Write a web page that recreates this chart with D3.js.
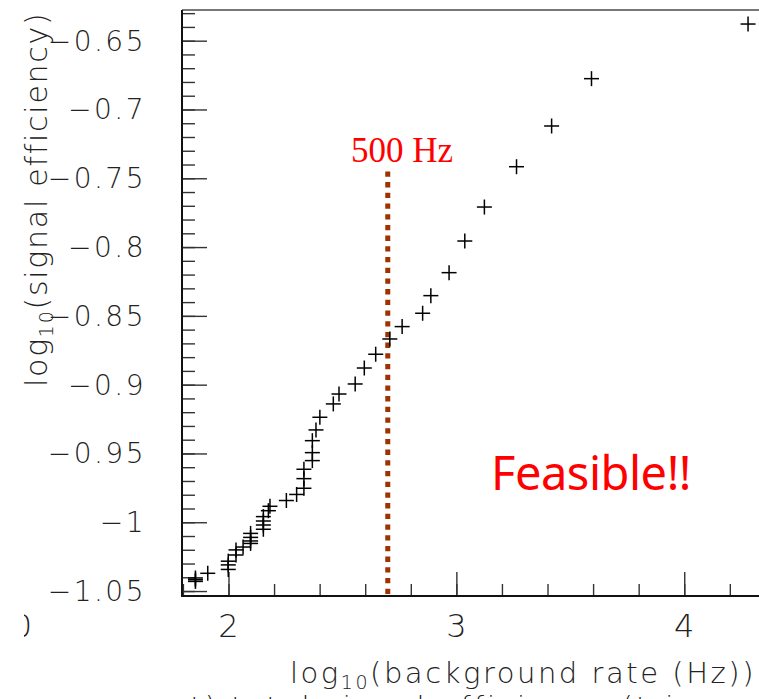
<!DOCTYPE html>
<html>
<head>
<meta charset="utf-8">
<script src="https://cdn.jsdelivr.net/npm/d3@7"></script>
<style>
  body { margin: 0; background: #fff; }
  svg { display: block; }
  .lab { font-family: "DejaVu Sans", "Liberation Sans", sans-serif; font-weight: 200; fill: #222; }
</style>
</head>
<body>
<svg id="chart" width="759" height="699"></svg>
<script>
// log10 of background rate (Hz) for each working point
const bgRate = [
  1.855, 1.855, 1.855, 1.909, 1.999, 1.999, 1.999, 2.033, 2.033, 2.064,
  2.097, 2.097, 2.097, 2.097, 2.153, 2.153, 2.153, 2.153, 2.175, 2.182,
  2.254, 2.299, 2.331, 2.331, 2.331, 2.368, 2.368, 2.368, 2.384, 2.401,
  2.460, 2.485, 2.556, 2.596, 2.646, 2.708, 2.762, 2.852, 2.888, 2.968,
  3.037, 3.123, 3.264, 3.418, 3.593, 4.280
];
// log10 of signal efficiency for the same working points
const sigEff = [
  -1.0405, -1.0418, -1.0430, -1.0371, -1.0283, -1.0310, -1.0343, -1.0201, -1.0238, -1.0180,
  -1.0081, -1.0110, -1.0136, -1.0154, -0.9959, -0.9991, -1.0020, -1.0051, -0.9916, -0.9884,
  -0.9842, -0.9798, -0.9753, -0.9683, -0.9615, -0.9552, -0.9494, -0.9407, -0.9329, -0.9237,
  -0.9140, -0.9068, -0.8995, -0.8879, -0.8779, -0.8668, -0.8578, -0.8481, -0.8353, -0.8186,
  -0.7956, -0.7709, -0.7416, -0.7120, -0.6776, -0.6379
];
const xTickValues = [2, 3, 4];
const xTickLabels = ["2", "3", "4"];
const yTickValues = [-0.65, -0.7, -0.75, -0.8, -0.85, -0.9, -0.95, -1.0, -1.05];
const yTickLabels = ["\u22120.65", "\u22120.7", "\u22120.75", "\u22120.8", "\u22120.85",
                     "\u22120.9", "\u22120.95", "\u22121", "\u22121.05"];
const rateLimitHz = 500;
const rateLimitLabel = "500 Hz";
const lineTopEff = -0.745;
const verdict = "Feasible!!";

const svg = d3.select("#chart");
const L = 182, R = 764, T = 10, B = 596;

const x = d3.scaleLinear().domain([1.796, 4.35]).range([L, R]);
const y = d3.scaleLinear().domain([-1.0536, -0.6277]).range([B, T]);

// fit a text element to a target length by spreading its letters
function fitLength(sel, target) {
  const node = sel.node();
  const n = node.getNumberOfChars();
  const len = node.getComputedTextLength();
  sel.style("letter-spacing", ((target - len) / n) + "px");
}

// axis ticks (ROOT style: ticks point into the frame)
const xMinorVals = d3.range(0, 13).map(i => 1.8 + i * 0.2).filter(v => v <= 4.35);
const yMinorVals = d3.range(0, 43).map(i => -1.05 + i * 0.01).filter(v => v <= -0.628);

function styleTicks(g) {
  g.select(".domain").remove();
  g.selectAll(".tick text").remove();
  g.selectAll(".tick line").attr("stroke", "#333").attr("stroke-width", 1.4);
}

svg.append("g").attr("transform", `translate(0,${B})`)
  .call(d3.axisBottom(x).tickValues(xMinorVals).tickSize(-12)).call(styleTicks);
svg.append("g").attr("transform", `translate(0,${B})`)
  .call(d3.axisBottom(x).tickValues(xTickValues).tickSize(-24)).call(styleTicks);
svg.append("g").attr("transform", `translate(${L},0)`)
  .call(d3.axisLeft(y).tickValues(yMinorVals).tickSize(-13)).call(styleTicks);
svg.append("g").attr("transform", `translate(${L},0)`)
  .call(d3.axisLeft(y).tickValues(yTickValues).tickSize(-25)).call(styleTicks);

// frame
svg.append("line").attr("x1", L).attr("x2", 759).attr("y1", T).attr("y2", T)
  .attr("stroke", "#777").attr("stroke-width", 2);
svg.append("line").attr("x1", L).attr("x2", L).attr("y1", T).attr("y2", B + 1)
  .attr("stroke", "#111").attr("stroke-width", 2);
svg.append("line").attr("x1", L - 1).attr("x2", 759).attr("y1", B).attr("y2", B)
  .attr("stroke", "#111").attr("stroke-width", 2);

// tick labels
svg.append("g").selectAll("text").data(xTickValues).join("text")
  .attr("class", "lab").attr("x", d => x(d)).attr("y", 637)
  .attr("text-anchor", "middle").style("font-size", "32px")
  .text((d, i) => xTickLabels[i]);

svg.append("g").selectAll("text").data(yTickValues).join("text")
  .attr("class", "lab").attr("x", 146).attr("y", d => y(d) + 10)
  .attr("text-anchor", "end").style("font-size", "28px").style("letter-spacing", "2.5px")
  .text((d, i) => yTickLabels[i]);

// partially hidden label from the neighbouring panel
const clip = svg.append("clipPath").attr("id", "edgeclip");
clip.append("rect").attr("x", 24).attr("y", 600).attr("width", 20).attr("height", 50);
svg.append("text").attr("class", "lab").attr("clip-path", "url(#edgeclip)")
  .attr("x", 22).attr("y", 637).attr("text-anchor", "middle")
  .style("font-size", "32px").text("0");

// axis titles
const xt = svg.append("text").attr("class", "lab").attr("x", 290).attr("y", 683)
  .style("font-size", "29px");
xt.append("tspan").text("log");
xt.append("tspan").attr("dy", 6).style("font-size", "19px").text("10");
xt.append("tspan").attr("dy", -6).text("(background rate (Hz))");
fitLength(xt, 466);

const yt = svg.append("text").attr("class", "lab")
  .attr("transform", "translate(47,387) rotate(-90)")
  .style("font-size", "30px");
yt.append("tspan").text("log");
yt.append("tspan").attr("dy", 6).style("font-size", "19px").text("10");
yt.append("tspan").attr("dy", -6).text("(signal efficiency)");
fitLength(yt, 375);

// caption line below the panel, mostly outside the view
svg.append("text").attr("class", "lab").attr("x", 150).attr("y", 717)
  .style("font-size", "29px").style("letter-spacing", "3px")
  .text("cut) total signal efficiency (trigger + offline selection)");

// rate limit marker
svg.append("line")
  .attr("x1", x(Math.log10(rateLimitHz))).attr("x2", x(Math.log10(rateLimitHz)))
  .attr("y1", y(lineTopEff)).attr("y2", B)
  .attr("stroke", "#9c3300").attr("stroke-width", 5)
  .attr("stroke-dasharray", "5.3,5.4");
svg.append("text").attr("x", 402).attr("y", 162).attr("text-anchor", "middle")
  .style("font-family", "'Liberation Serif', 'DejaVu Serif', serif")
  .style("font-size", "35px").style("fill", "#ff0000").text(rateLimitLabel);

// data points as crosses
const arm = 7.5;
const pts = svg.append("g").attr("stroke", "#000").attr("stroke-width", 1.5);
bgRate.forEach((bx, i) => {
  const px = x(bx), py = y(sigEff[i]);
  pts.append("line").attr("x1", px - arm).attr("x2", px + arm).attr("y1", py).attr("y2", py);
  pts.append("line").attr("x1", px).attr("x2", px).attr("y1", py - arm).attr("y2", py + arm);
});

// verdict text
const fv = svg.append("text").attr("x", 491).attr("y", 490)
  .style("font-family", "'Comic Sans MS', 'Noto Sans', 'Open Sans', sans-serif")
  .style("font-size", "47px").style("fill", "#ff0000").text(verdict);
fitLength(fv, 200);
</script>
</body>
</html>
